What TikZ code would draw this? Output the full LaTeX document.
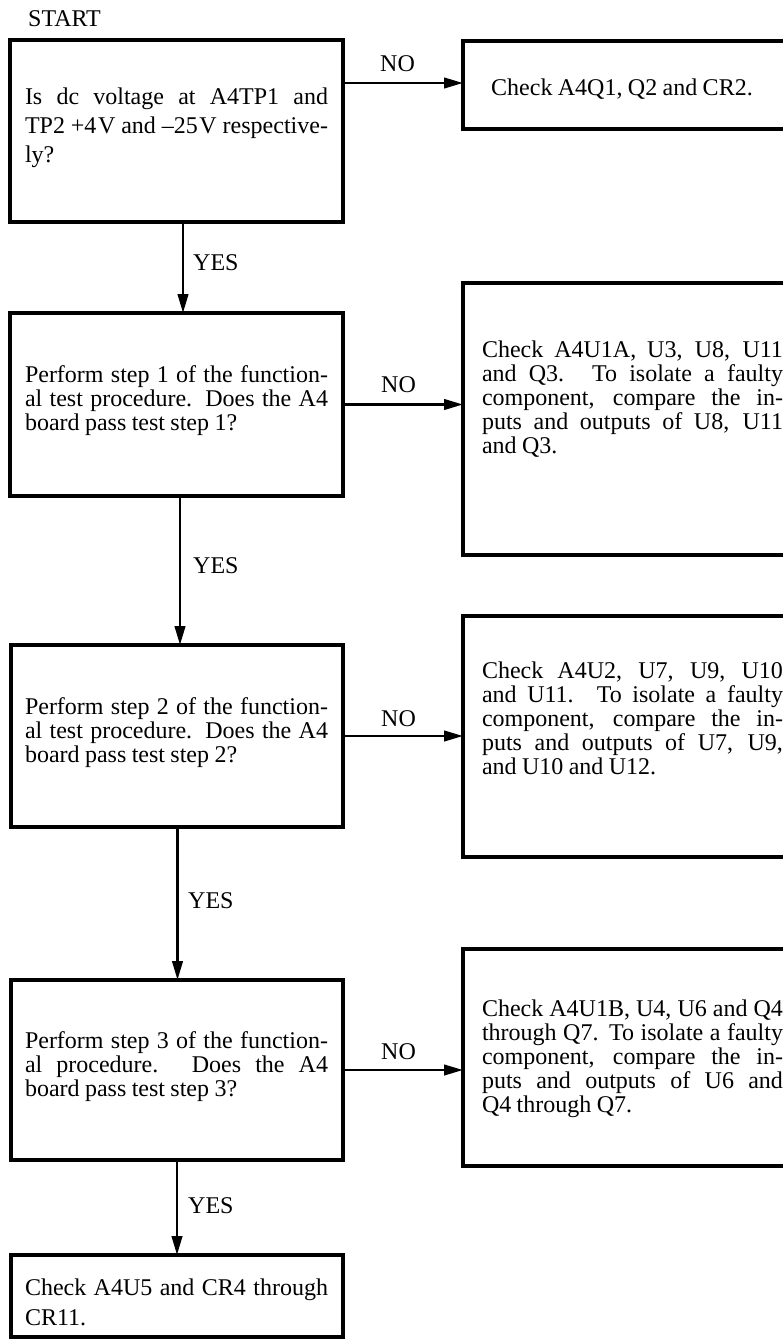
\documentclass[tikz,border=0pt]{standalone}
\usepackage{fontspec}
\setmainfont{Liberation Serif}[WordSpace=0.9]
\usetikzlibrary{arrows.meta}
\hyphenpenalty=10000
\tolerance=9999
\emergencystretch=20pt
\begin{document}
\begin{tikzpicture}[x=1pt,y=-1pt,
  box/.style={draw, line width=3.6pt, rectangle, inner sep=0pt, outer sep=0pt, anchor=north west},
  txt/.style={anchor=base west, inner sep=0pt, outer sep=0pt, text width=303pt, align=justify, font=\fontsize{24}{24}\selectfont},
  lbl/.style={anchor=base west, inner sep=0pt, font=\fontsize{24}{24}\selectfont},
  conn/.style={line width=2.6pt, -{Triangle[length=19pt,width=10.5pt]}}
]
\path[use as bounding box, fill=white] (0,0) rectangle (783,1340);

% boxes
\node[box, minimum width=333pt, minimum height=182pt] (b1) at (10,40) {};
\node[box, minimum width=323pt, minimum height=88pt]  (r1) at (463,41) {};
\node[box, minimum width=333pt, minimum height=183pt] (b2) at (10,313) {};
\node[box, minimum width=323pt, minimum height=272pt] (r2) at (463,283) {};
\node[box, minimum width=332pt, minimum height=182pt] (b3) at (11,645) {};
\node[box, minimum width=323pt, minimum height=241pt] (r3) at (463,616) {};
\node[box, minimum width=332pt, minimum height=180pt] (b4) at (11,980) {};
\node[box, minimum width=323pt, minimum height=217pt] (r4) at (463,949) {};
\node[box, minimum width=332pt, minimum height=82pt]  (b5) at (11,1255) {};

% texts
\node[lbl] (start) at (28,27) {START};
\node[txt, font=\fontsize{24}{29}\selectfont] (tb1) at (25,105)
  {Is dc voltage at A4TP1 and\linebreak TP2 +4\kern1.5pt V and –25\kern1.5pt V respective-\linebreak ly?};
\node[lbl] (tr1) at (491,96) {Check A4Q1, Q2 and CR2.};
\node[txt] (tb2) at (25,382)
  {Perform step 1 of the function-\linebreak al test procedure. Does the A4\linebreak board pass test step 1?};
\node[txt, text width=301pt] (tr2) at (482,357)
  {Check A4U1A, U3, U8, U11\linebreak and Q3. To isolate a faulty\linebreak component, compare the in-\linebreak puts and outputs of U8, U11\linebreak and Q3.};
\node[txt] (tb3) at (25,714)
  {Perform step 2 of the function-\linebreak al test procedure. Does the A4\linebreak board pass test step 2?};
\node[txt, text width=301pt] (tr3) at (482,678)
  {Check A4U2, U7, U9, U10\linebreak and U11. To isolate a faulty\linebreak component, compare the in-\linebreak puts and outputs of U7, U9,\linebreak and U10 and U12.};
\node[txt] (tb4) at (25,1048)
  {Perform step 3 of the function-\linebreak al procedure. Does the A4\linebreak board pass test step 3?};
\node[txt, text width=301pt] (tr4) at (482,1016)
  {Check A4U1B, U4, U6 and Q4\linebreak through Q7. To isolate a faulty\linebreak component, compare the in-\linebreak puts and outputs of U6 and\linebreak Q4 through Q7.};
\node[txt, font=\fontsize{24}{30}\selectfont] (tb5) at (25,1295)
  {Check A4U5 and CR4 through\linebreak CR11.};

% connector labels
\node[lbl] (no1) at (380,72) {NO};
\node[lbl] (no2) at (381,392) {NO};
\node[lbl] (no3) at (381,726) {NO};
\node[lbl] (no4) at (381,1059) {NO};
\node[lbl] (yes1) at (193,270) {YES};
\node[lbl] (yes2) at (193,573) {YES};
\node[lbl] (yes3) at (188,908) {YES};
\node[lbl] (yes4) at (188,1213) {YES};

% NO connectors
\draw[conn] ([yshift=2pt]r1.west -| b1.east) -- ([yshift=2pt]r1.west);
\draw[conn] (b2.east) -- (b2.east -| r2.west);
\draw[conn] (b3.east) -- (b3.east -| r3.west);
\draw[conn] (b4.east) -- (b4.east -| r4.west);

% YES connectors
\draw[conn] ([xshift=6.5pt]b1.south) -- ([xshift=6.5pt]b1.south |- b2.north);
\draw[conn] ([xshift=3.5pt]b2.south) -- ([xshift=3.5pt]b2.south |- b3.north);
\draw[conn] ([xshift=0.5pt]b3.south) -- ([xshift=0.5pt]b3.south |- b4.north);
\draw[conn] (b4.south) -- (b4.south |- b5.north);
\end{tikzpicture}
\end{document}
